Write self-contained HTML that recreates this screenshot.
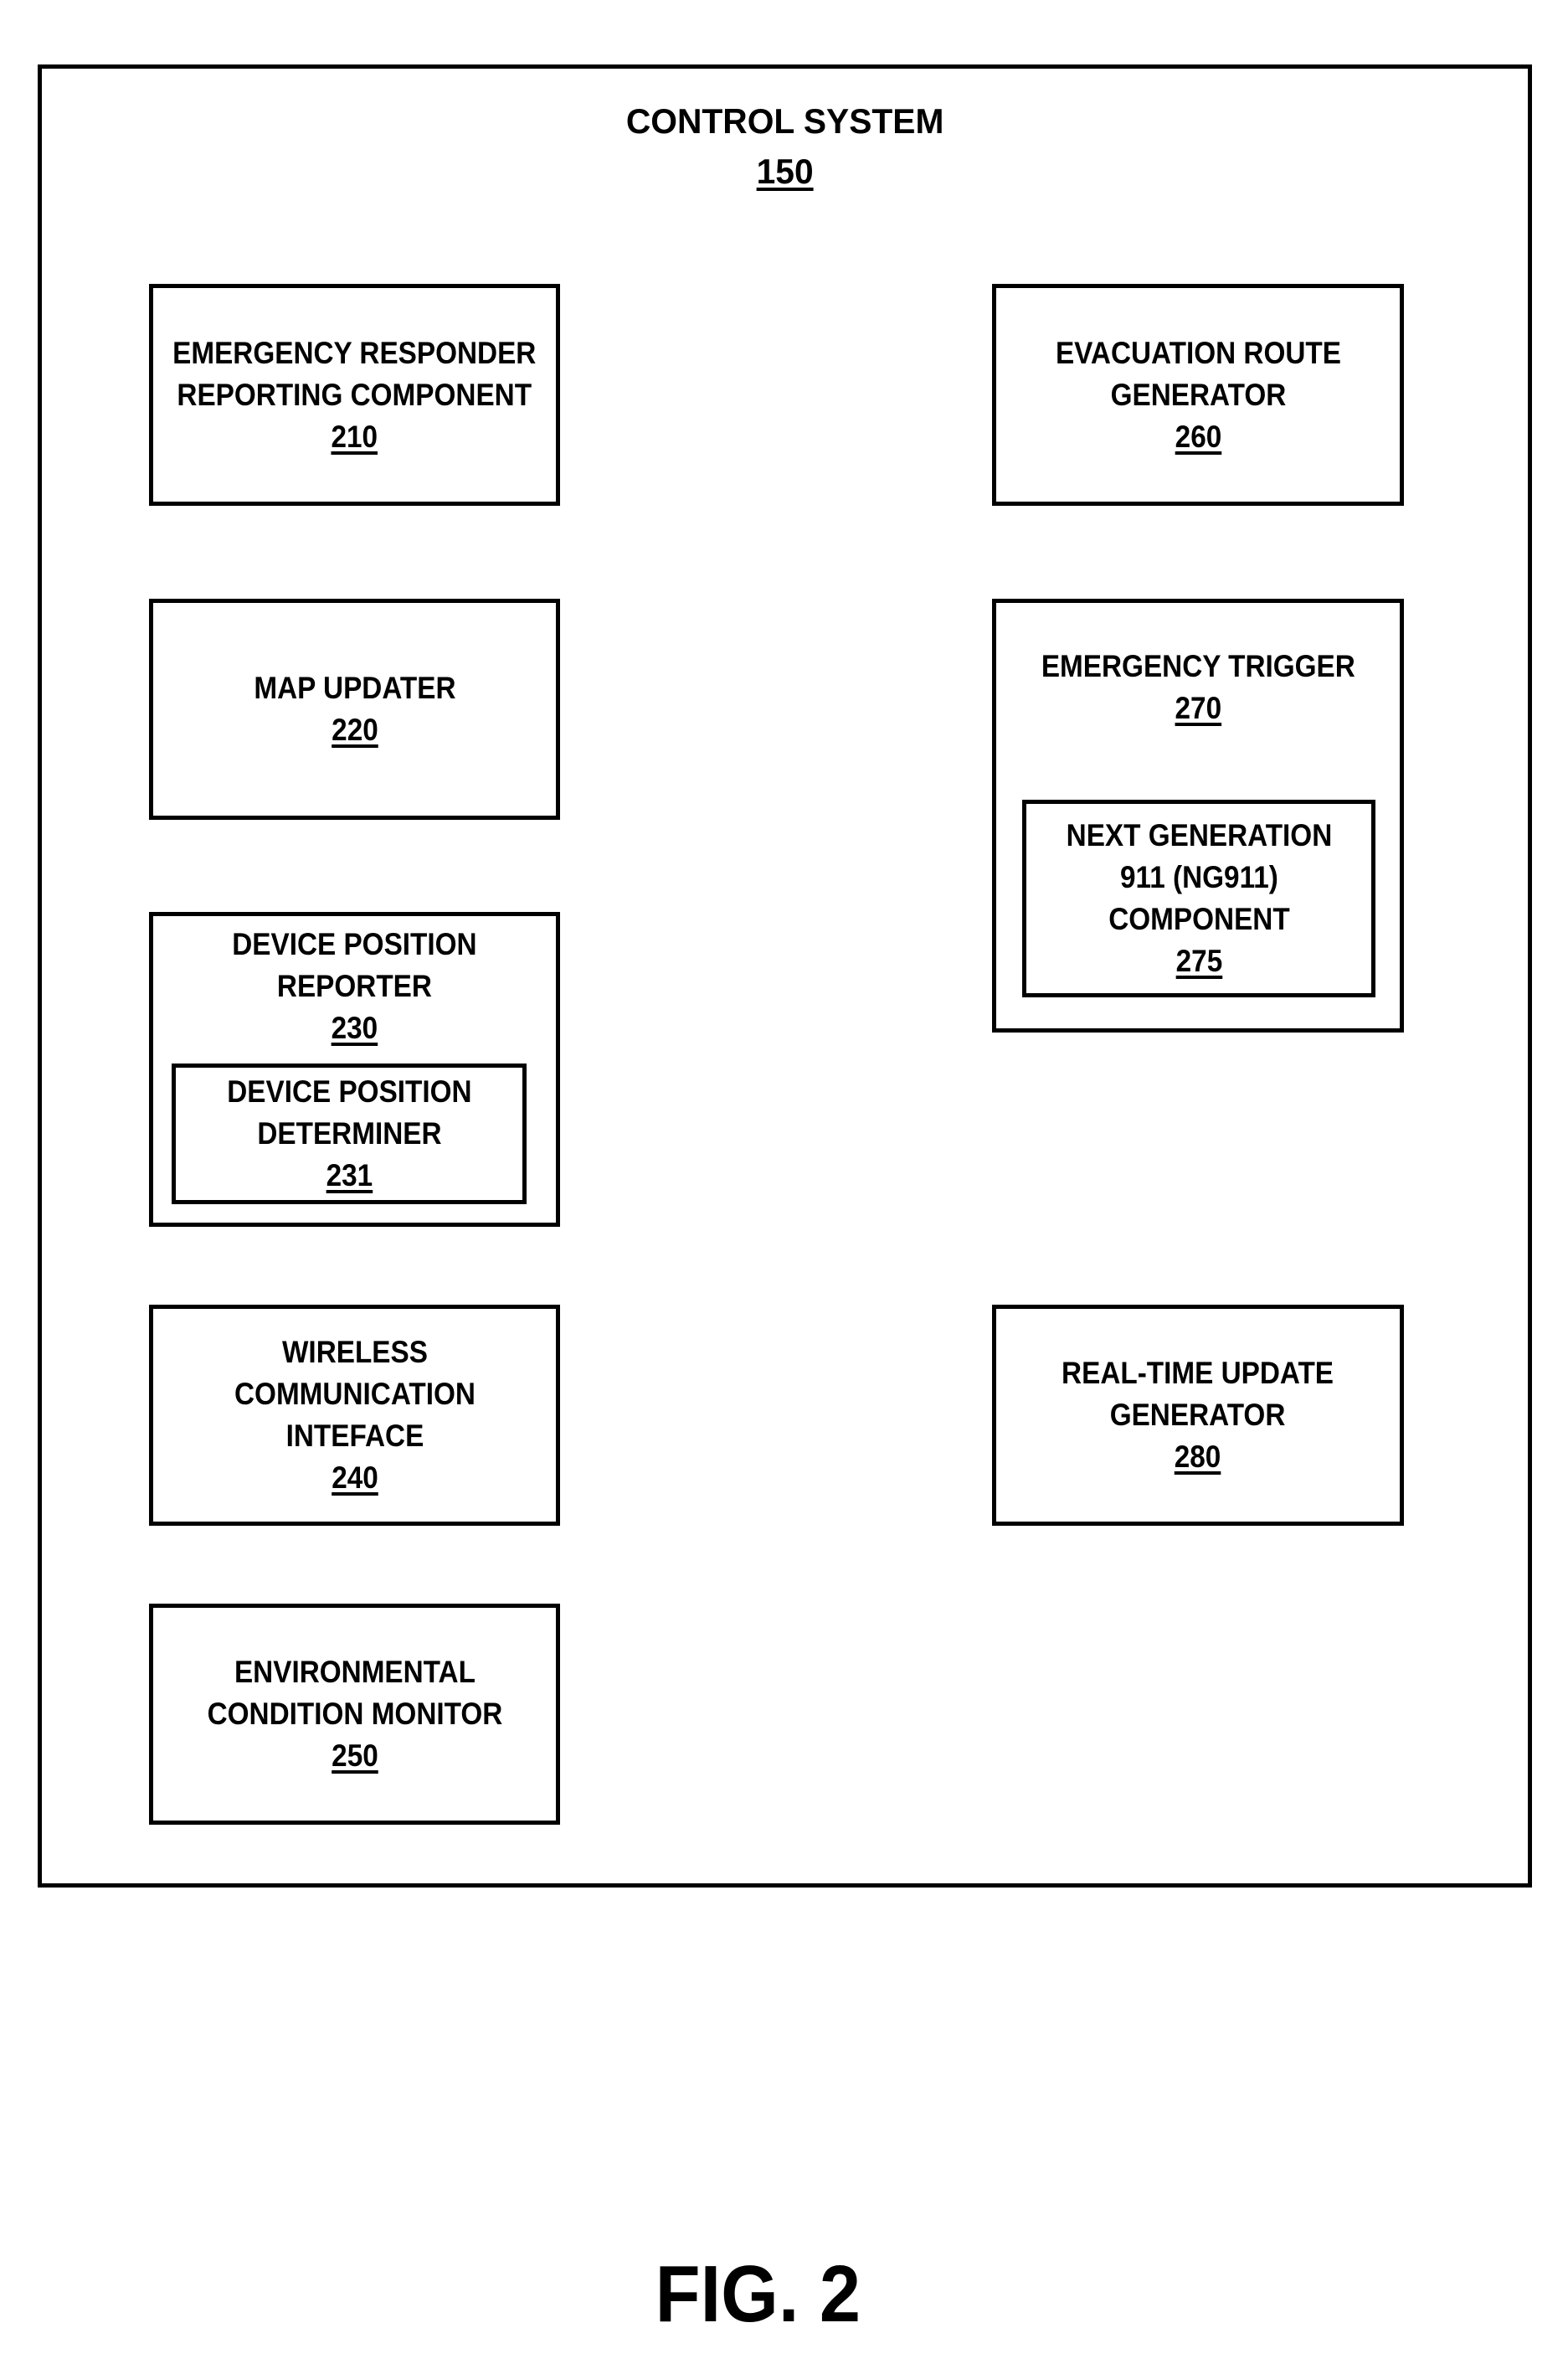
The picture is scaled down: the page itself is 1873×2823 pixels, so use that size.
<!DOCTYPE html>
<html><head><meta charset="utf-8"><style>
html,body{margin:0;padding:0;background:#fff;}
body{width:1873px;height:2823px;position:relative;overflow:hidden;font-family:"Liberation Sans",sans-serif;font-weight:bold;color:#000;}
.b{position:absolute;border:5px solid #000;box-sizing:border-box;}
.c{position:absolute;display:flex;align-items:center;justify-content:center;text-align:center;font-size:37px;line-height:50px;}
.c span{display:inline-block;transform:scaleX(0.9);white-space:nowrap;}
u{text-decoration:underline;text-decoration-thickness:4px;text-underline-offset:5px;}
</style></head><body>
<div class="b" style="left:45px;top:77px;width:1785px;height:2177px;"></div>
<div class="c" style="left:45px;top:115px;width:1785px;height:120px;font-size:42px;line-height:60px;"><span style="transform:scaleX(0.97)">CONTROL SYSTEM<br><u>150</u></span></div>

<div class="b c" style="left:178px;top:339px;width:491px;height:265px;"><span>EMERGENCY RESPONDER<br>REPORTING COMPONENT<br><u>210</u></span></div>
<div class="b c" style="left:1185px;top:339px;width:492px;height:265px;"><span>EVACUATION ROUTE<br>GENERATOR<br><u>260</u></span></div>
<div class="b c" style="left:178px;top:715px;width:491px;height:264px;"><span>MAP UPDATER<br><u>220</u></span></div>

<div class="b" style="left:1185px;top:715px;width:492px;height:518px;"></div>
<div class="c" style="left:1185px;top:770px;width:492px;height:102px;"><span>EMERGENCY TRIGGER<br><u>270</u></span></div>
<div class="b c" style="left:1221px;top:955px;width:422px;height:236px;"><span>NEXT GENERATION<br>911 (NG911)<br>COMPONENT<br><u>275</u></span></div>

<div class="b" style="left:178px;top:1089px;width:491px;height:376px;"></div>
<div class="c" style="left:178px;top:1102px;width:491px;height:152px;"><span>DEVICE POSITION<br>REPORTER<br><u>230</u></span></div>
<div class="b c" style="left:205px;top:1270px;width:424px;height:168px;"><span>DEVICE POSITION<br>DETERMINER<br><u>231</u></span></div>

<div class="b c" style="left:178px;top:1558px;width:491px;height:264px;"><span>WIRELESS<br>COMMUNICATION<br>INTEFACE<br><u>240</u></span></div>
<div class="b c" style="left:1185px;top:1558px;width:492px;height:264px;"><span>REAL-TIME UPDATE<br>GENERATOR<br><u>280</u></span></div>
<div class="b c" style="left:178px;top:1915px;width:491px;height:264px;"><span>ENVIRONMENTAL<br>CONDITION MONITOR<br><u>250</u></span></div>

<div class="c" style="left:600px;top:2680px;width:610px;height:120px;font-size:96px;line-height:120px;"><span style="transform:scaleX(0.92)">FIG. 2</span></div>
</body></html>
